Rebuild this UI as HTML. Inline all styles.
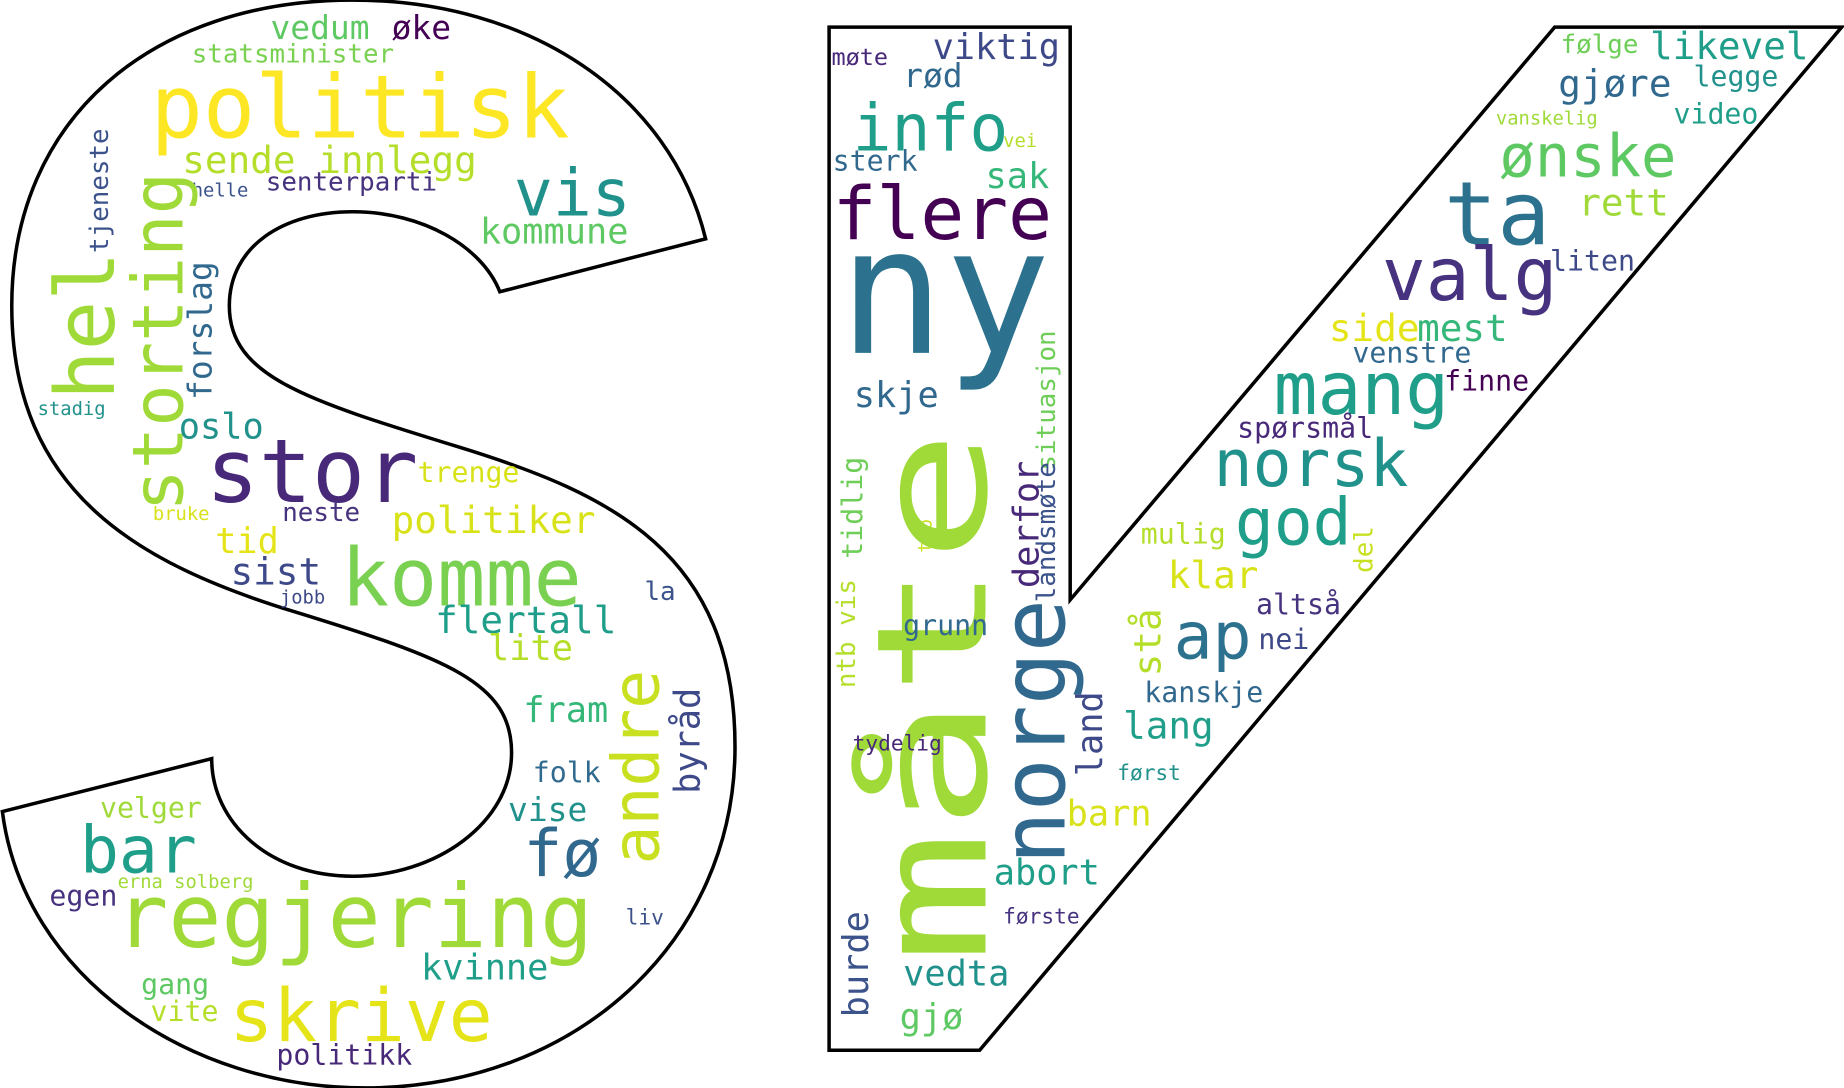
<!DOCTYPE html>
<html><head><meta charset="utf-8"><title>Word cloud</title>
<style>html,body{margin:0;padding:0;background:#fff;width:1844px;height:1088px;overflow:hidden}
svg{display:block}
text{font-family:"DejaVu Sans Mono","Liberation Mono",monospace}</style></head>
<body>
<svg id="cloud" width="1844" height="1088" viewBox="0 0 1568 925" xmlns="http://www.w3.org/2000/svg">
<path fill="#fff" stroke="#000" stroke-width="3" d="M600,203 C570,80 450,0 300,0 C130,0 10,100 10,260 C10,420 120,480 250,520 C380,560 435,580 435,640 C435,700 370,745 300,745 C230,745 180,700 180,645 L2,690 C20,830 160,925 310,925 C490,925 625,800 625,635 C625,470 520,420 390,380 C260,340 195,320 195,260 C195,210 240,180 300,180 C360,180 410,210 425,248 Z"/>
<polygon fill="#fff" stroke="#000" stroke-width="3" points="705,23 910,23 910,510 1322,23 1566,23 833,893 705,893"/>
<g id="words"></g>
</svg>
<script>
const words = ["vedum","øke","statsminister","politisk","sende innlegg","vis","senterparti","helle","kommune","tjeneste","hel","storting","forslag","stadig","oslo","stor","trenge","bruke","neste","politiker","tid","komme","sist","jobb","la","flertall","lite","andre","byråd","fram","folk","velger","vise","bar","fø","erna solberg","egen","regjering","liv","kvinne","gang","vite","skrive","politikk",
"møte","viktig","rød","info","vei","sterk","sak","flere","ny","skje","situasjon","landsmøte","derfor","tidlig","ntb vis","tro","måte","grunn","norge","land","tydelig","barn","abort","burde","første","vedta","gjø",
"følge","likevel","legge","gjøre","vanskelig","video","ønske","ta","rett","valg","liten","side","mest","venstre","mang","finne","spørsmål","norsk","god","mulig","del","klar","stå","altså","ap","nei","kanskje","lang","først"];
const sizes = [28,28,22,74,32,55,22,16,30,22,70,60,28,16,30,75,24,16,22,32,30,68,32,16,22,32,30,55,30,30,24,24,28,55,55,16,24,75,18,30,24,24,62,24,
20,30,28,55,16,24,30,62,150,30,22,22,30,24,22,16,130,24,75,30,18,30,30,30,18,30,30,
22,32,24,32,16,24,50,75,32,62,24,32,32,24,62,24,24,55,55,24,22,32,32,24,55,24,24,32,18];
const colors = ["#5ec962","#440154","#7ad151","#fde725","#b5de2b","#21918c","#46327e","#3b528b","#5ec962","#3b528b","#a0da39","#a0da39","#31688e","#21918c","#21918c","#482878","#d8e219","#d8e219","#46327e","#d8e219","#e5e419","#7ad151","#3e4989","#3e4989","#3b528b","#1f9e89","#b5de2b","#c8e020","#3e4989","#35b779","#306a8e","#a0da39","#21918c","#1f9e89","#31688e","#a0da39","#46327e","#a0da39","#3b528b","#1f9e89","#5ec962","#b5de2b","#e5e419","#482878",
"#482878","#3e4989","#31688e","#1f9e89","#b5de2b","#31688e","#35b779","#440154","#2c728e","#31688e","#6ece58","#3b528b","#482878","#6ece58","#b5de2b","#c8e020","#a0da39","#31688e","#31688e","#3e4989","#482878","#d8e219","#1f9e89","#3b528b","#46327e","#21918c","#5ec962",
"#6ece58","#1f9e89","#21918c","#31688e","#a0da39","#1f9e89","#5ec962","#2c728e","#a0da39","#46327e","#3e4989","#e5e419","#35b779","#31688e","#1f9e89","#440154","#482878","#21918c","#1f9e89","#b5de2b","#c8e020","#d8e219","#b5de2b","#46327e","#2c728e","#3e4989","#31688e","#1f9e89","#21918c"];
const xs = [230,333,163,128,155,437,226,163,408,92,97,155,180,32,152,175,355,130,240,333,183,290,196,238,548,370,415,560,595,445,453,85,432,68,445,100,42,98,532,358,120,128,195,235,
707,793,768,725,853,708,838,708,713,726,897,897,883,733,727,792,838,768,905,937,725,907,845,738,853,768,765,
1327,1403,1440,1325,1272,1423,1275,1228,1342,1175,1318,1130,1205,1150,1083,1228,1052,1032,1050,970,1167,993,987,1068,998,1070,973,955,950];
const ys = [33,33,53,117,147,183,162,167,207,215,340,435,340,353,373,427,410,442,443,453,470,515,497,513,510,538,561,735,675,614,665,695,698,742,745,755,770,805,786,833,845,868,885,905,
55,50,74,128,125,145,160,203,300,346,400,512,500,475,585,470,820,540,735,660,638,702,752,865,785,838,875,
45,50,73,82,106,105,150,208,183,255,230,290,290,308,352,332,372,413,463,462,487,500,575,522,560,552,597,628,663];
const rotated = [0,0,0,0,0,0,0,0,0,1,1,1,1,0,0,0,0,0,0,0,0,0,0,0,0,0,0,1,1,0,0,0,0,0,0,0,0,0,0,0,0,0,0,0,
0,0,0,0,0,0,0,0,0,0,1,1,1,1,1,1,1,0,1,1,0,0,0,1,0,0,0,
0,0,0,0,0,0,0,0,0,0,0,0,0,0,0,0,0,0,0,0,1,0,1,0,0,0,0,0,0];
const fitWord = "måte";
const fitLength = 455;

const g = document.getElementById('words');
const NS = 'http://www.w3.org/2000/svg';
for (let i = 0; i < words.length; i++) {
  const t = document.createElementNS(NS, 'text');
  
  
  t.setAttribute('x', xs[i]);
  t.setAttribute('y', ys[i]);
  t.setAttribute('font-size', sizes[i]);
  t.setAttribute('fill', colors[i]);
  if (words[i] === fitWord) {
    t.setAttribute('textLength', fitLength);
    t.setAttribute('lengthAdjust', 'spacingAndGlyphs');
  }
  if (rotated[i]) t.setAttribute('transform', 'rotate(-90 ' + xs[i] + ' ' + ys[i] + ')');
  t.textContent = words[i];
  g.appendChild(t);
}
</script>
</body></html>
